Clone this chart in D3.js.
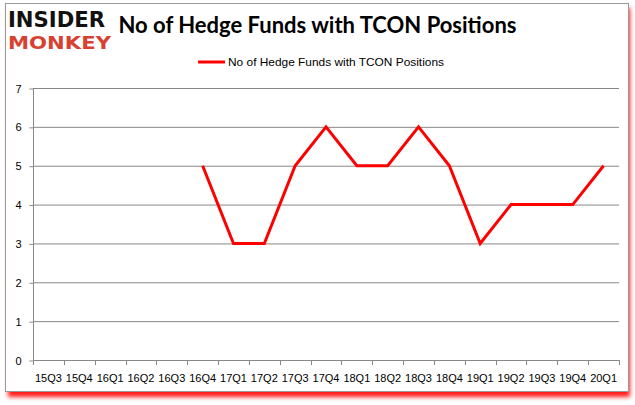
<!DOCTYPE html>
<html><head><meta charset="utf-8">
<script src="https://cdn.jsdelivr.net/npm/d3@7"></script>
<style>body{margin:0;background:#fff;}svg{display:block;}</style>
</head><body>
<script>
const categories = ["15Q3","15Q4","16Q1","16Q2","16Q3","16Q4","17Q1","17Q2","17Q3","17Q4","18Q1","18Q2","18Q3","18Q4","19Q1","19Q2","19Q3","19Q4","20Q1"];
const values = [null,null,null,null,null,5,3,3,5,6,5,5,6,5,3,4,4,4,5];
const yTicks = [0,1,2,3,4,5,6,7];
const seriesName = "No of Hedge Funds with TCON Positions";
const title = "No of Hedge Funds with TCON Positions";

const W = 635, H = 405;
const svg = d3.select("body").append("svg").attr("width", W).attr("height", H);

const defs = svg.append("defs");
const f = defs.append("filter").attr("id","sh").attr("x","-5%").attr("y","-5%").attr("width","110%").attr("height","115%");
f.append("feGaussianBlur").attr("stdDeviation", 2);

// shadow + frame
svg.append("rect").attr("x",8).attr("y",8).attr("width",622).attr("height",389).attr("fill","#ff1a1a").attr("filter","url(#sh)");
svg.append("rect").attr("x",5.5).attr("y",3.5).attr("width",623).attr("height",388).attr("fill","#fff").attr("stroke","#999").attr("stroke-width",1);

const m = {l:33, r:619, t:88, b:360};
const x = d3.scaleBand().domain(categories).range([m.l, m.r]);
const y = d3.scaleLinear().domain([0,7]).range([m.b, m.t]);

// gridlines
svg.append("g").selectAll("line").data(yTicks.filter(d=>d>0)).join("line")
  .attr("x1", m.l).attr("x2", m.r).attr("y1", d=>y(d)+0.5).attr("y2", d=>y(d)+0.5)
  .attr("stroke","#888").attr("stroke-width",1);

// y axis
const ya = svg.append("g").attr("transform",`translate(${m.l+0.5},0.5)`)
  .call(d3.axisLeft(y).tickValues(yTicks).tickSize(4).tickPadding(8).tickFormat(d3.format("d")));
ya.select(".domain").attr("stroke","#888").attr("d",`M0,${m.t}V${m.b}`);
ya.selectAll(".tick line").attr("stroke","#888");
ya.selectAll("text").attr("font-family","Liberation Sans, Arial, sans-serif").attr("font-size",11).attr("fill","#000");

// x axis
const xa = svg.append("g").attr("transform",`translate(0,${m.b+0.5})`)
  .call(d3.axisBottom(x).tickSize(0).tickPadding(14));
xa.select(".domain").attr("stroke","#888").attr("d",`M${m.l},0H${m.r}`);
xa.selectAll("text").attr("font-family","Liberation Sans, Arial, sans-serif").attr("font-size",11).attr("fill","#000");
svg.append("g").selectAll("line").data(d3.range(categories.length+1)).join("line")
  .attr("x1", i=>Math.round(m.l + i*x.step())+0.5).attr("x2", i=>Math.round(m.l + i*x.step())+0.5)
  .attr("y1", m.b).attr("y2", m.b+5).attr("stroke","#888");

// line
const line = d3.line().defined(d=>d.v!=null).x(d=>x(d.c)+x.bandwidth()/2).y(d=>y(d.v));
svg.append("path").datum(categories.map((c,i)=>({c, v: values[i]})))
  .attr("d", line).attr("fill","none").attr("stroke","#ff0000").attr("stroke-width",3).attr("stroke-linejoin","miter");

// title
svg.append("text").attr("x",317.5).attr("y",33).attr("text-anchor","middle")
  .attr("font-family","Lato, Carlito, sans-serif").attr("font-weight","bold").attr("font-size",22)
  .attr("fill","#000").text(title);

// legend
svg.append("line").attr("x1",198).attr("x2",225).attr("y1",62).attr("y2",62).attr("stroke","#ff0000").attr("stroke-width",3);
svg.append("text").attr("x",228).attr("y",66).attr("font-family","Liberation Sans, Arial, sans-serif").attr("font-size",11.5)
  .attr("textLength",216).attr("lengthAdjust","spacingAndGlyphs")
  .attr("fill","#000").text(seriesName);

// logo
svg.append("text").attr("x",8).attr("y",27).attr("font-family","DejaVu Sans, sans-serif").attr("font-weight","900")
  .attr("font-size",21).attr("textLength",97).attr("lengthAdjust","spacingAndGlyphs").attr("fill","#111").text("INSIDER");
svg.append("text").attr("x",8).attr("y",49).attr("font-family","DejaVu Sans, sans-serif").attr("font-weight","900")
  .attr("font-size",17).attr("textLength",103).attr("lengthAdjust","spacingAndGlyphs").attr("fill","#d7412e").text("MONKEY");
</script>
</body></html>
